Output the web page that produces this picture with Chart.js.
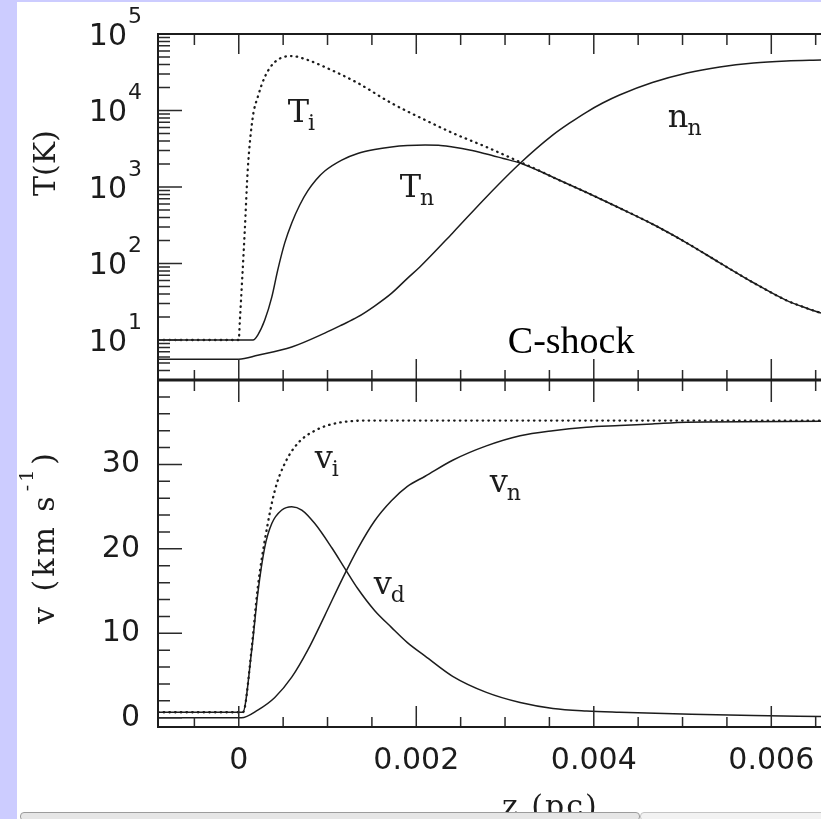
<!DOCTYPE html>
<html>
<head>
<meta charset="utf-8">
<script src="https://cdn.jsdelivr.net/npm/chart.js@4.4.0/dist/chart.umd.min.js"></script>
<style>
  html, body { margin: 0; padding: 0; }
  body { width: 821px; height: 819px; background: #ccccff; position: relative; overflow: hidden; }
  #paper { position: absolute; left: 17px; top: 2px; width: 804px; height: 817px; background: #fff; }
  canvas { position: absolute; left: 17px; }
  #topChart { top: 0; }
  #bottomChart { top: 380px; }
  #bar { position: absolute; left: 20px; top: 812px; width: 620px; height: 9px; background: #e6e6e6;
         border: 1px solid #9c9c9c; border-radius: 4px; box-sizing: border-box; }
  #bar2 { position: absolute; left: 640px; top: 812px; width: 190px; height: 9px; background: #f2f2f2;
          border: 1px solid #c4c4c4; border-radius: 4px; box-sizing: border-box; }
</style>
</head>
<body>
<div id="paper"></div>
<canvas id="topChart" width="804" height="380"></canvas>
<canvas id="bottomChart" width="804" height="439"></canvas>
<div id="bar"></div>
<div id="bar2"></div>
<script>
// --- C-shock profile, values ---

// upper panel: temperatures (K) and neutral density, log axis
const zTi = [-0.00091, 0, 0.000011, 0.000068, 0.000101, 0.000158, 0.000214, 0.000293, 0.000406, 0.000597, 0.000777, 0.000969, 0.00134, 0.00172, 0.0021, 0.00241, 0.00279, 0.00317, 0.00336, 0.00354, 0.00392, 0.00429, 0.00466, 0.00505, 0.00542, 0.0058, 0.00617, 0.0064, 0.00656];
const tIon = [10, 10, 16.7, 274, 1670, 8200, 15000, 27400, 43000, 51500, 45700, 37000, 22900, 12500, 7500, 5080, 3330, 2120, 1690, 1340, 847, 531, 328, 185, 102, 56, 33, 26, 22.5];

const zTn = [-0.00091, 0.00016, 0.000214, 0.000293, 0.000372, 0.000439, 0.000518, 0.000597, 0.000687, 0.000777, 0.000869, 0.000969, 0.00116, 0.00134, 0.00153, 0.00172, 0.0019, 0.0021, 0.00225, 0.00241, 0.0026, 0.00279, 0.00298, 0.00317, 0.00336, 0.00354, 0.00392, 0.00429, 0.00466, 0.00505, 0.00542, 0.0058, 0.00617, 0.0064, 0.00656];
const tNeutral = [10, 10, 11.6, 18.2, 36.3, 82, 186, 339, 582, 888, 1236, 1620, 2250, 2740, 3090, 3335, 3480, 3540, 3520, 3330, 3050, 2700, 2360, 2060, 1670, 1340, 847, 531, 328, 185, 102, 56, 33, 26, 22.5];

const zNn = [-0.00091, 0, 0.000214, 0.000597, 0.000969, 0.00116, 0.00134, 0.00153, 0.00172, 0.0019, 0.00204, 0.00241, 0.00279, 0.00317, 0.00354, 0.00373, 0.00392, 0.0041, 0.00429, 0.00466, 0.00505, 0.00542, 0.0058, 0.00617, 0.00656];
const nNeutral = [5.6, 5.6, 6.3, 8.1, 12.3, 15.7, 20, 27.8, 40.7, 64, 90, 251, 741, 2040, 4790, 6870, 9550, 12530, 15960, 23200, 30900, 37100, 41800, 44400, 45700];

// lower panel: velocities (km/s)
const zVi = [-0.00091, 0.000045, 0.000068, 0.000146, 0.000214, 0.000293, 0.000406, 0.000518, 0.000665, 0.000857, 0.00116, 0.00153, 0.0021, 0.00656];
const vIon = [0.65, 0.65, 1.2, 8.3, 15.4, 21.0, 26.9, 30.1, 32.5, 34.0, 35.0, 35.2, 35.2, 35.2];

const zVd = [-0.00091, 0.000045, 0.000146, 0.000214, 0.000293, 0.000372, 0.000485, 0.000597, 0.00071, 0.000857, 0.00105, 0.0012, 0.00134, 0.00153, 0.00172, 0.0019, 0.0021, 0.00241, 0.00279, 0.00317, 0.00354, 0.00392, 0.00429, 0.0051, 0.0058, 0.00656];
const vDrift = [0.65, 0.65, 8.0, 14.7, 20.2, 23.0, 24.6, 25.0, 24.6, 23.0, 20.1, 17.6, 15.3, 12.7, 10.7, 8.9, 7.3, 4.9, 3.0, 1.8, 1.1, 0.8, 0.65, 0.4, 0.25, 0.15];

const zVn = [-0.00091, 0.00003, 0.000214, 0.000406, 0.000597, 0.000777, 0.000969, 0.00116, 0.00134, 0.00153, 0.00172, 0.0019, 0.0021, 0.00241, 0.00279, 0.00317, 0.00354, 0.00392, 0.00429, 0.00466, 0.00505, 0.00656];
const vNeutral = [0, 0, 0.9, 2.4, 4.8, 8.0, 12.1, 16.3, 20.0, 23.3, 25.7, 27.4, 28.6, 30.5, 32.2, 33.4, 34.0, 34.4, 34.6, 34.8, 35.0, 35.1];

// axes
const zRange = [-0.00091, 0.00656];
const tRange = [3, 1e5];
const vRange = [-1.1, 40];
const xMajor = [0, 0.002, 0.004, 0.006];
const xLabels = ["0", "0.002", "0.004", "0.006"];
const xMinor = [-0.0005, 0.0005, 0.001, 0.0015, 0.0025, 0.003, 0.0035, 0.0045, 0.005, 0.0055, 0.0065];
const tMajor = [10, 100, 1000, 10000, 100000];
const tExponents = ["1", "2", "3", "4", "5"];
const vMajor = [0, 10, 20, 30];
const vLabels = ["0", "10", "20", "30"];
const vMinor = [2, 4, 6, 8, 12, 14, 16, 18, 22, 24, 26, 28, 32, 34, 36, 38];

// curve labels
const tNotes = [
  { text: "T", sub: "i", z: 0.000552, y: 7080 },
  { text: "T", sub: "n", z: 0.001814, y: 740 },
  { text: "n", sub: "n", z: 0.004834, y: 6080 }
];
const vNotes = [
  { text: "v", sub: "i", z: 0.000856, y: 29.6 },
  { text: "v", sub: "n", z: 0.002828, y: 26.7 },
  { text: "v", sub: "d", z: 0.001521, y: 14.7 }
];

// --- Helpers ---
const INK = "#1c1c1c";
const SANS = '"DejaVu Sans"';
const SERIF = '"DejaVu Serif"';
const pts = (xs, ys) => xs.map((x, i) => ({ x, y: ys[i] }));
const solid = (xs, ys) => ({
  data: pts(xs, ys), borderColor: INK, borderWidth: 1.5, pointRadius: 0,
  cubicInterpolationMode: "monotone", fill: false
});
const dotted = (xs, ys) => ({ ...solid(xs, ys), borderWidth: 2.3, borderDash: [0.5, 5.2], borderCapStyle: "round" });
const noPad = s => { s.paddingLeft = 0; s.paddingRight = 0; s.paddingTop = 0; s.paddingBottom = 0; };

const tickMinor = [];
[1, 10, 100, 1000, 10000].forEach(d => [2, 3, 4, 5, 6, 7, 8, 9].forEach(m => { if (d * m >= tRange[0]) tickMinor.push(d * m); }));

function seg(ctx, x1, y1, x2, y2) { ctx.moveTo(x1, y1); ctx.lineTo(x2, y2); }

function drawTicks(chart, yScale, yMajorVals, yMinorVals, topLen) {
  const { ctx, chartArea: a, scales: { x } } = chart;
  ctx.save();
  ctx.strokeStyle = "#2a2a2a";
  ctx.lineWidth = 1.5;
  ctx.beginPath();
  xMajor.forEach(v => { const p = x.getPixelForValue(v); seg(ctx, p, a.top, p, a.top + topLen); seg(ctx, p, a.bottom, p, a.bottom - 21); });
  xMinor.forEach(v => { const p = x.getPixelForValue(v); seg(ctx, p, a.top, p, a.top + 11); seg(ctx, p, a.bottom, p, a.bottom - 10); });
  yMajorVals.forEach(v => { const p = yScale.getPixelForValue(v); seg(ctx, a.left, p, a.left + 24, p); });
  yMinorVals.forEach(v => { const p = yScale.getPixelForValue(v); seg(ctx, a.left, p, a.left + 12, p); });
  ctx.stroke();
  ctx.restore();
}

function drawFrame(chart, topWidth, bottomWidth) {
  const { ctx, chartArea: a } = chart;
  ctx.save();
  ctx.strokeStyle = INK;
  ctx.lineWidth = 2;
  ctx.beginPath(); seg(ctx, a.left, a.top - 1, a.left, a.bottom + 1); ctx.stroke();
  ctx.lineWidth = topWidth;
  ctx.beginPath(); seg(ctx, a.left, a.top, a.right, a.top); ctx.stroke();
  ctx.lineWidth = bottomWidth;
  ctx.beginPath(); seg(ctx, a.left, a.bottom, a.right, a.bottom); ctx.stroke();
  ctx.restore();
}

function drawNotes(chart, notes, yScale) {
  const { ctx, scales: { x } } = chart;
  ctx.save();
  ctx.fillStyle = INK;
  ctx.textBaseline = "alphabetic";
  notes.forEach(n => {
    const px = x.getPixelForValue(n.z), py = yScale.getPixelForValue(n.y);
    ctx.font = "32px " + SERIF;
    ctx.fillText(n.text, px, py);
    const w = ctx.measureText(n.text).width;
    ctx.font = "22px " + SERIF;
    ctx.fillText(n.sub, px + w - 1, py + 8);
  });
  ctx.restore();
}

// --- Upper panel ---
const upperDecor = {
  id: "upperDecor",
  afterDraw(chart) {
    const { ctx, chartArea: a, scales: { x, y } } = chart;
    drawTicks(chart, y, tMajor, tickMinor, 20);
    drawFrame(chart, 2, 3);
    ctx.save();
    ctx.fillStyle = INK;
    ctx.textAlign = "right";
    ctx.textBaseline = "alphabetic";
    tMajor.forEach((v, i) => {
      const py = y.getPixelForValue(v);
      const right = a.left - 16;
      ctx.font = "22px " + SANS;
      const ew = ctx.measureText(tExponents[i]).width;
      ctx.fillText(tExponents[i], right, py - 11);
      ctx.font = "30px " + SANS;
      ctx.fillText("10", right - ew - 1, py + 11);
    });
    // axis title
    ctx.translate(a.left - 113, a.top + 129);
    ctx.rotate(-Math.PI / 2);
    ctx.textAlign = "center";
    ctx.font = "30px " + SERIF;
    ctx.fillText("T(K)", 0, 10);
    ctx.restore();
    drawNotes(chart, tNotes, y);
    ctx.save();
    ctx.fillStyle = "#000";
    ctx.font = '38px "Liberation Serif"';
    ctx.fillText("C-shock", x.getPixelForValue(0.003031), y.getPixelForValue(6.77));
    ctx.restore();
  }
};

new Chart(document.getElementById("topChart"), {
  type: "line",
  data: {
    datasets: [dotted(zTi, tIon), solid(zTn, tNeutral), solid(zNn, nNeutral)]
  },
  options: {
    responsive: false,
    animation: false,
    layout: { padding: { top: 34, right: 0, bottom: 0, left: 0 } },
    plugins: { legend: { display: false }, tooltip: { enabled: false } },
    scales: {
      x: { type: "linear", min: zRange[0], max: zRange[1], display: false },
      y: {
        type: "logarithmic", min: tRange[0], max: tRange[1],
        grid: { display: false, drawTicks: false }, border: { display: false },
        ticks: { display: false },
        afterFit: s => { s.width = 141; noPad(s); }
      }
    }
  },
  plugins: [upperDecor]
});

// --- Lower panel ---
const lowerDecor = {
  id: "lowerDecor",
  afterDraw(chart) {
    const { ctx, chartArea: a, scales: { x, y } } = chart;
    drawTicks(chart, y, vMajor, vMinor, 22);
    drawFrame(chart, 3, 2);
    drawNotes(chart, vNotes, y);
    ctx.save();
    ctx.fillStyle = INK;
    ctx.textBaseline = "alphabetic";
    // y title: v (km s^-1), rotated
    ctx.translate(a.left - 113, 157);
    ctx.rotate(-Math.PI / 2);
    if ("letterSpacing" in ctx) ctx.letterSpacing = "3px";
    ctx.font = "30px " + SERIF;
    const main = "v (km s", close = ")";
    const wMain = ctx.measureText(main).width, wClose = ctx.measureText(close).width;
    ctx.font = "19px " + SERIF;
    const wSup = ctx.measureText("-1").width;
    let u = -(wMain + wSup + wClose + 4) / 2;
    ctx.font = "30px " + SERIF;
    ctx.fillText(main, u, 9); u += wMain + 2;
    ctx.font = "19px " + SERIF;
    ctx.fillText("-1", u, -12); u += wSup + 2;
    ctx.font = "30px " + SERIF;
    ctx.fillText(close, u, 9);
    ctx.restore();
    // x title
    ctx.save();
    ctx.fillStyle = INK;
    ctx.textAlign = "center";
    if ("letterSpacing" in ctx) ctx.letterSpacing = "2px";
    ctx.font = "30px " + SERIF;
    ctx.fillText("z (pc)", x.getPixelForValue(0.00351), a.bottom + 89);
    ctx.restore();
  }
};

new Chart(document.getElementById("bottomChart"), {
  type: "line",
  data: {
    datasets: [dotted(zVi, vIon), solid(zVd, vDrift), solid(zVn, vNeutral)]
  },
  options: {
    responsive: false,
    animation: false,
    layout: { padding: 0 },
    plugins: { legend: { display: false }, tooltip: { enabled: false } },
    scales: {
      x: {
        type: "linear", min: zRange[0], max: zRange[1], position: "bottom",
        afterBuildTicks: s => { s.ticks = xMajor.map(v => ({ value: v })); },
        ticks: {
          autoSkip: false, maxRotation: 0, padding: 16, color: INK,
          font: { family: "DejaVu Sans", size: 30 },
          callback: (v, i) => xLabels[i]
        },
        grid: { display: false, drawTicks: false }, border: { display: false },
        afterFit: s => { s.height = 92; noPad(s); }
      },
      y: {
        type: "linear", min: vRange[0], max: vRange[1],
        afterBuildTicks: s => { s.ticks = vMajor.map(v => ({ value: v })); },
        ticks: {
          autoSkip: false, padding: 18, color: INK,
          font: { family: "DejaVu Sans", size: 30 },
          callback: (v, i) => vLabels[i]
        },
        grid: { display: false, drawTicks: false }, border: { display: false },
        afterFit: s => { s.width = 141; noPad(s); }
      }
    }
  },
  plugins: [lowerDecor]
});
</script>
</body>
</html>
